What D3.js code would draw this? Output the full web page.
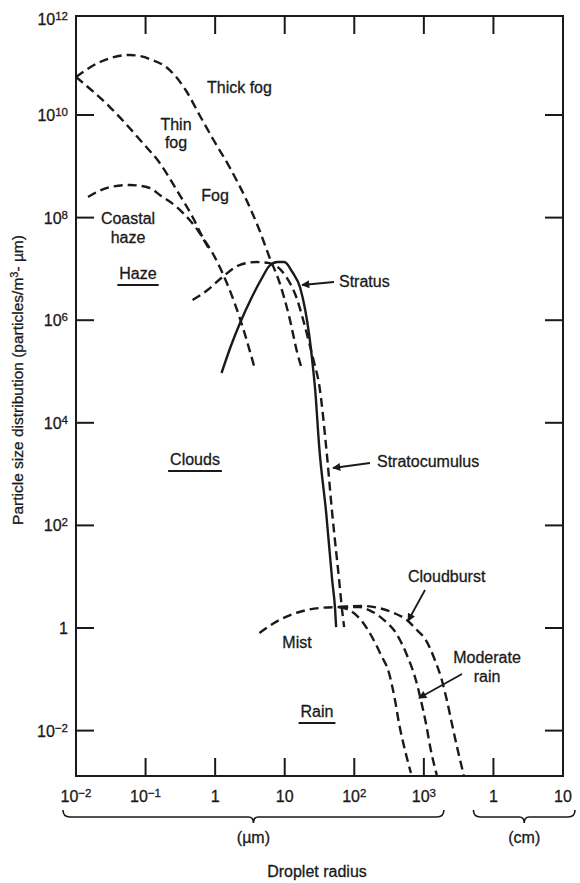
<!DOCTYPE html>
<html>
<head>
<meta charset="utf-8">
<script src="https://cdn.jsdelivr.net/npm/d3@7"></script>
<style>
  html, body { margin: 0; padding: 0; background: #fff; }
  svg { display: block; }
  text { font-family: "Liberation Sans", Arial, sans-serif; fill: #1a1a1a; stroke: #1a1a1a; stroke-width: 0.3; }
</style>
</head>
<body>
<script>
// ---------------- DATA ----------------
// x: droplet radius in micrometres, y: particles / m^3-µm
const xTickValues = [1e-2, 1e-1, 1, 10, 1e2, 1e3, 1e4, 1e5];
const xTickLabels = ["10^-2", "10^-1", "1", "10", "10^2", "10^3", "1", "10"];
const yTickValues = [1e12, 1e10, 1e8, 1e6, 1e4, 1e2, 1, 1e-2];
const yTickLabels = ["10^12", "10^10", "10^8", "10^6", "10^4", "10^2", "1", "10^-2"];

const thickFogR = [0.010, 0.0221, 0.0594, 0.1148, 0.2223, 0.3767, 0.598, 0.9484, 1.607, 2.818, 4.325, 6.01, 8.37, 11.64, 15.17, 17.3];
const thickFogN = [5.5e10, 1.08e11, 1.48e11, 1.236e11, 7.53e10, 3.07e10, 9.91e9, 3.26e9, 9.68e8, 2.2e8, 5.73e7, 1.71e7, 5.56e6, 1.15e6, 2.3e5, 1.22e5];

const thinFogR = [0.010, 0.0307, 0.0912, 0.160, 0.280, 0.474, 0.659, 0.918, 1.276, 2.239, 3.664];
const thinFogN = [5.5e10, 1.43e10, 2.84e9, 1.16e9, 3.45e8, 1.03e8, 4.19e7, 2.04e7, 8.32e6, 1.15e6, 1.22e5];

const coastalHazeR = [0.0149, 0.0307, 0.0594, 0.115, 0.160, 0.280, 0.430, 0.598, 0.832];
const coastalHazeN = [2.52e8, 3.94e8, 4.32e8, 3.78e8, 2.76e8, 1.61e8, 8.97e7, 5.01e7, 2.33e7];

const stratocumulusR = [0.474, 0.778, 1.276, 2.239, 3.917, 6.01, 10.54, 14.66, 18.45, 22.49, 26.55, 31.33, 39.45, 48.08, 60.53, 66.83, 71.45];
const stratocumulusN = [2.48e6, 3.88e6, 6.95e6, 1.19e7, 1.36e7, 1.30e7, 6.95e6, 2.83e6, 1.01e6, 3.6e5, 1.47e5, 5.46e4, 3.37e3, 175, 8.63, 2.24, 1.04];

const stratusR = [1.236, 1.663, 2.312, 3.327, 4.624, 6.01, 7.834, 9.863, 12.85, 16.71, 19.72, 22.49, 24.83, 27.42, 31.33, 39.45, 48.08, 53.09, 54.83];
const stratusN = [9.35e4, 3.0e5, 9.23e5, 2.71e6, 6.35e6, 1.14e7, 1.36e7, 1.36e7, 8.71e6, 4.25e6, 1.58e6, 5.15e5, 1.67e5, 4.36e4, 3.37e3, 175, 8.63, 2.24, 1.04];

const mistR = [4.325, 8.37, 16.18, 31.33, 60.53];
const mistN = [0.80, 1.43, 2.05, 2.45, 2.56];

const drizzleR = [60.53, 84.3, 125, 179.9, 242, 315.5, 384.6, 438.5, 534.6, 651.6];
const drizzleN = [2.56, 2.24, 1.43, 0.668, 0.298, 0.1327, 0.03945, 0.01406, 0.004188, 0.001489];

const moderateRainR = [60.53, 117.2, 162.9, 267.3, 397.2, 570.2, 767.4, 905.7, 1069, 1259, 1535];
const moderateRainN = [2.56, 2.56, 2.24, 1.43, 0.80, 0.298, 0.0968, 0.03945, 0.01406, 0.004188, 0.001365];

const cloudburstR = [60.53, 138, 226.5, 371.5, 570.2, 794.3, 1069, 1439, 1811, 2138, 2518, 3069, 3741];
const cloudburstN = [2.56, 2.685, 2.45, 1.959, 1.43, 0.914, 0.583, 0.2377, 0.0968, 0.03945, 0.01406, 0.004188, 0.001365];

// ---------------- LAYOUT ----------------
const W = 580, H = 883;
const plot = { left: 76, right: 563, top: 16, bottom: 776 };
const tickLen = 18;

const x = d3.scaleLog().domain([1e-2, 1e5]).range([plot.left, plot.right]);
const y = d3.scaleLog().domain([Math.pow(10, -2.885), Math.pow(10, 11.93)]).range([plot.bottom, plot.top]);

const svg = d3.select("body").append("svg").attr("width", W).attr("height", H);

svg.append("defs").append("clipPath").attr("id", "clip")
  .append("rect").attr("x", plot.left).attr("y", plot.top)
  .attr("width", plot.right - plot.left).attr("height", plot.bottom - plot.top);

svg.select("defs").append("marker")
  .attr("id", "arrow").attr("viewBox", "0 0 10 10")
  .attr("refX", 9).attr("refY", 5)
  .attr("markerWidth", 9).attr("markerHeight", 8)
  .attr("markerUnits", "userSpaceOnUse")
  .attr("orient", "auto")
  .append("path").attr("d", "M0,0 L10,5 L0,10 Z").attr("fill", "#1a1a1a");

// frame
svg.append("rect")
  .attr("x", plot.left).attr("y", plot.top)
  .attr("width", plot.right - plot.left).attr("height", plot.bottom - plot.top)
  .attr("fill", "none").attr("stroke", "#1a1a1a").attr("stroke-width", 2);

// ticks (inward, all four sides)
const xInner = xTickValues.filter(v => v > 1e-2 && v < 1e5);
const yInner = yTickValues.filter(v => v < 1e12);
const tg = svg.append("g").attr("stroke", "#1a1a1a").attr("stroke-width", 2);
xInner.forEach(v => {
  tg.append("line").attr("x1", x(v)).attr("x2", x(v)).attr("y1", plot.top).attr("y2", plot.top + tickLen);
  tg.append("line").attr("x1", x(v)).attr("x2", x(v)).attr("y1", plot.bottom).attr("y2", plot.bottom - tickLen);
});
yInner.forEach(v => {
  tg.append("line").attr("y1", y(v)).attr("y2", y(v)).attr("x1", plot.left).attr("x2", plot.left + tickLen);
  tg.append("line").attr("y1", y(v)).attr("y2", y(v)).attr("x1", plot.right).attr("x2", plot.right - tickLen);
});

function powLabel(sel, label) {
  const parts = label.split("^");
  sel.append("tspan").text(parts[0]);
  if (parts.length > 1) {
    sel.append("tspan").attr("dy", -5).attr("font-size", 11.5)
      .text(parts[1].replace("-", "\u2212"));
  }
}

// x tick labels
xTickValues.forEach((v, i) => {
  const t = svg.append("text").attr("x", x(v)).attr("y", 802)
    .attr("text-anchor", "middle").attr("font-size", 16);
  powLabel(t, xTickLabels[i]);
});
// y tick labels
yTickValues.forEach((v, i) => {
  const t = svg.append("text").attr("x", 68).attr("y", Math.max(y(v), plot.top + 3) + 6)
    .attr("text-anchor", "end").attr("font-size", 16);
  powLabel(t, yTickLabels[i]);
});

// braces under x axis
function brace(x0, x1, yTop) {
  const xm = (x0 + x1) / 2, r = 7, yb = yTop + 7;
  return `M${x0},${yTop} Q${x0},${yb} ${x0 + r},${yb} L${xm - 5},${yb} Q${xm},${yb} ${xm},${yb + 6}` +
         ` Q${xm},${yb} ${xm + 5},${yb} L${x1 - r},${yb} Q${x1},${yb} ${x1},${yTop}`;
}
const b1 = [x(1e-2) - 13, x(1e3) + 20];
const b2 = [x(1e4) - 20, plot.right + 12];
svg.append("path").attr("d", brace(b1[0], b1[1], 810))
  .attr("fill", "none").attr("stroke", "#1a1a1a").attr("stroke-width", 1.6);
svg.append("path").attr("d", brace(b2[0], b2[1], 810))
  .attr("fill", "none").attr("stroke", "#1a1a1a").attr("stroke-width", 1.6);
svg.append("text").attr("x", (b1[0] + b1[1]) / 2).attr("y", 843)
  .attr("text-anchor", "middle").attr("font-size", 16).text("(\u00b5m)");
svg.append("text").attr("x", (b2[0] + b2[1]) / 2).attr("y", 843)
  .attr("text-anchor", "middle").attr("font-size", 16).text("(cm)");

// axis titles
svg.append("text").attr("x", 317).attr("y", 877).attr("text-anchor", "middle")
  .attr("font-size", 16).text("Droplet radius");
const yt = svg.append("text").attr("transform", "translate(23,380) rotate(-90)")
  .attr("text-anchor", "middle").attr("font-size", 15.5);
yt.append("tspan").text("Particle size distribution (particles/m");
yt.append("tspan").attr("dy", -5).attr("font-size", 11).text("3");
yt.append("tspan").attr("dy", 5).text("- \u00b5m)");

// curves
const line = d3.line().x(d => x(d[0])).y(d => y(d[1])).curve(d3.curveMonotoneX);
const zip = (a, b) => a.map((v, i) => [v, b[i]]);
const series = [
  { r: thickFogR, n: thickFogN, dashed: true },
  { r: thinFogR, n: thinFogN, dashed: true },
  { r: coastalHazeR, n: coastalHazeN, dashed: true },
  { r: stratocumulusR, n: stratocumulusN, dashed: true },
  { r: stratusR, n: stratusN, dashed: false },
  { r: mistR, n: mistN, dashed: true },
  { r: drizzleR, n: drizzleN, dashed: true },
  { r: moderateRainR, n: moderateRainN, dashed: true },
  { r: cloudburstR, n: cloudburstN, dashed: true }
];
const cg = svg.append("g").attr("clip-path", "url(#clip)");
series.forEach(s => {
  cg.append("path").attr("d", line(zip(s.r, s.n)))
    .attr("fill", "none").attr("stroke", "#1a1a1a").attr("stroke-width", 2.4)
    .attr("stroke-dasharray", s.dashed ? "9,5" : null)
    .attr("stroke-linecap", "butt");
});

// labels
const labels = [
  { t: "Thick fog", x: 207, y: 93, a: "start" },
  { t: "Thin", x: 176, y: 130, a: "middle" },
  { t: "fog", x: 176, y: 148, a: "middle" },
  { t: "Fog", x: 215, y: 201, a: "middle" },
  { t: "Coastal", x: 128, y: 224, a: "middle" },
  { t: "haze", x: 128, y: 243, a: "middle" },
  { t: "Haze", x: 138, y: 279, a: "middle", u: true },
  { t: "Stratus", x: 339, y: 287, a: "start" },
  { t: "Clouds", x: 195, y: 465, a: "middle", u: true },
  { t: "Stratocumulus", x: 377, y: 467, a: "start" },
  { t: "Cloudburst", x: 408, y: 582, a: "start" },
  { t: "Mist", x: 297, y: 648, a: "middle" },
  { t: "Moderate", x: 487, y: 663, a: "middle" },
  { t: "rain", x: 487, y: 682, a: "middle" },
  { t: "Rain", x: 317, y: 717, a: "middle", u: true }
];
labels.forEach(l => {
  const t = svg.append("text").attr("x", l.x).attr("y", l.y)
    .attr("text-anchor", l.a).attr("font-size", 16).text(l.t);
  if (l.u) {
    const w = t.node().getComputedTextLength();
    svg.append("line").attr("x1", l.x - w / 2 - 2).attr("x2", l.x + w / 2 + 2)
      .attr("y1", l.y + 6).attr("y2", l.y + 6)
      .attr("stroke", "#1a1a1a").attr("stroke-width", 2);
  }
});

// arrows
const arrows = [
  [334, 282, 302, 285],
  [370, 463, 333, 468],
  [425, 590, 408, 621],
  [462, 674, 419, 698]
];
arrows.forEach(a => {
  svg.append("line").attr("x1", a[0]).attr("y1", a[1]).attr("x2", a[2]).attr("y2", a[3])
    .attr("stroke", "#1a1a1a").attr("stroke-width", 1.8).attr("marker-end", "url(#arrow)");
});
</script>
</body>
</html>
